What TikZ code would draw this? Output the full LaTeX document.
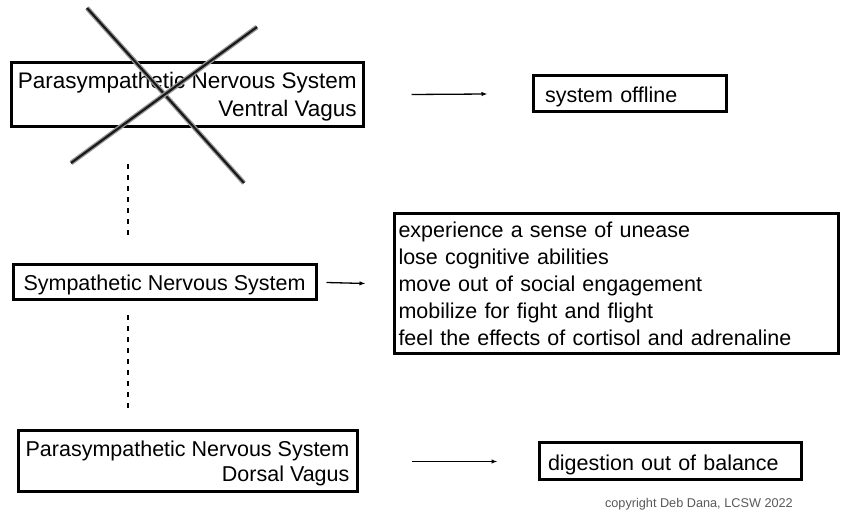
\documentclass[tikz,border=0pt]{standalone}
\usepackage{fontspec}
\setmainfont{Liberation Sans}
\usetikzlibrary{arrows.meta}
\begin{document}
\begin{tikzpicture}[x=1pt,y=-1pt,
  box/.style={draw=black, line width=3pt, inner sep=0pt,
    font=\fontsize{21.5}{27}\selectfont},
  arr/.style={line width=1.3pt, -{Latex[length=6pt,width=4.5pt]}},
  dotline/.style={line width=2.8pt, dash pattern=on 5pt off 6pt},
  crossout/.style={line width=2.2pt, draw=black!90,
    preaction={draw=black!40, line width=4.8pt}}]
\useasboundingbox (0,0) rectangle (844,510);

% the three branches of the nervous system
\node[box, minimum width=352pt, minimum height=64pt, align=right,
  font=\fontsize{22.5}{28}\selectfont, text height=49.3pt, text depth=4.7pt] (pvv)
  at (187.25,94.5) {Parasympathetic Nervous System\\Ventral Vagus};
\node[box, minimum width=303pt, minimum height=35pt,
  text height=21.5pt, text depth=4.5pt] (sns)
  at (164.5,282.5) {Sympathetic Nervous System};
\node[box, minimum width=339pt, minimum height=61pt, align=right,
  font=\fontsize{21.5}{25}\selectfont, text height=44.9pt, text depth=4.5pt] (pdv)
  at (187.5,461.5) {Parasympathetic Nervous System\\Dorsal Vagus};

% what happens in each state
\node[box, text width=169pt, inner xsep=12pt, minimum height=36pt, align=left,
  text height=22.5pt, text depth=4.5pt] (off)
  at (629.5,94) {system offline};
\node[box, text width=436pt, inner xsep=4pt, minimum height=140pt, align=left] (sym)
  at (616.5,283.5) {experience a sense of unease\\lose cognitive abilities\\move out of social engagement\\mobilize for fight and flight\\feel the effects of cortisol and adrenaline};
\node[box, text width=244pt, inner xsep=9pt, minimum height=37pt, align=left,
  text height=23pt, text depth=4.5pt] (dig)
  at (670,461.5) {digestion out of balance};

% arrows from each state to its effects
\draw[arr] ([xshift=46.75pt]pvv.east) -- ([xshift=-44pt]off.west);
\draw[arr] ([xshift=9pt]sns.east) -- ([xshift=-27.5pt]sym.west);
\draw[arr] ([xshift=53.5pt]pdv.east) -- ([xshift=-40pt]dig.west);

% dotted links between the levels
\draw[dotline] ([xshift=-59.25pt,yshift=-36.5pt]pvv.south) -- ([xshift=-36.5pt,yshift=25pt]sns.north);
\draw[dotline] ([xshift=-36.5pt,yshift=-14pt]sns.south) -- ([xshift=-59.5pt,yshift=18pt]pdv.north);

% the ventral vagus is crossed out
\draw[crossout] (87,8) -- (244,183);
\draw[crossout] (71,163) -- (257,27);

\node[anchor=base east, inner sep=0pt, text=black!65,
  font=\fontsize{12.7}{15}\selectfont] (copy) at (793,507.5)
  {copyright Deb Dana, LCSW 2022};
\end{tikzpicture}
\end{document}
